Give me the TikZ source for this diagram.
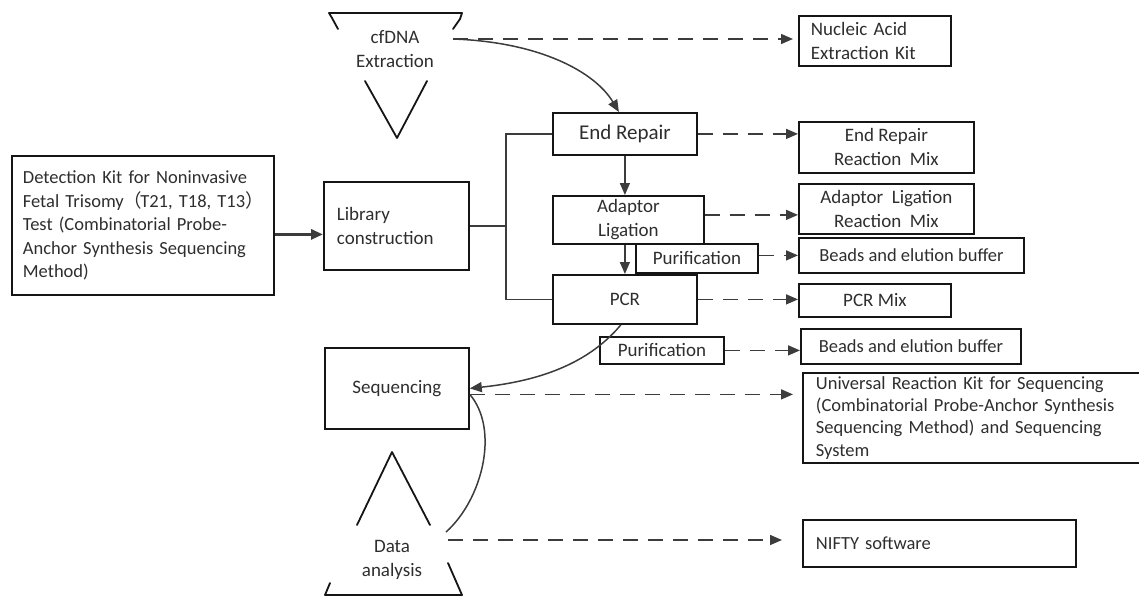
\documentclass[tikz,border=0pt]{standalone}
\usepackage{fontspec}
\setmainfont{Carlito}
\newfontfamily\cjk{Noto Sans CJK SC}
\usetikzlibrary{arrows.meta}
\definecolor{ln}{HTML}{3C3C3C}
\definecolor{tx}{HTML}{2E2E2E}
\definecolor{bd}{HTML}{151515}
\begin{document}
\begin{tikzpicture}[x=1pt,y=-1pt,
 box/.style={draw=bd, line width=1.8pt, text=tx, inner sep=0pt, anchor=north west, font=\fontsize{19}{24}\selectfont, align=center},
 lbox/.style={box, align=left, inner xsep=12pt},
 plain/.style={text=tx, inner sep=0pt, font=\fontsize{19}{24}\selectfont, align=center},
 conn/.style={draw=ln, line width=1.5pt},
 arr/.style={conn, -{Triangle[length=12pt,width=10pt]}},
 darr/.style={arr, dash pattern=on 15pt off 10pt},
 shp/.style={draw=bd, line width=1.8pt, line join=round, line cap=round},
]
\useasboundingbox (0,0) rectangle (1139,596);

% cfDNA extraction shape
\draw[shp] (338,29) -- (332,18) -- (329,13) -- (462,13) -- (460,19) -- (453,29);
\draw[shp] (365,81) -- (397,138) -- (427,81);
\node[plain] (cf) at (395,49) {cfDNA\\Extraction};
\coordinate (cfr) at (453,39);

% Data analysis shape
\draw[shp] (357,525) -- (392,452) -- (430,525);
\draw[shp] (330,583) -- (325,595) -- (462,595) -- (448,563);
\node[plain] (da) at (392,560) {Data\\analysis};
\coordinate (dar) at (446,532);
\coordinate (dad) at (448,540);

% boxes
\node[lbox, minimum width=262pt, minimum height=139pt, text width=240pt, inner xsep=11pt,
 font=\fontsize{18.5}{23.5}\selectfont] (det) at (11,155)
 {Detection Kit for Noninvasive\\\mbox{Fetal Trisomy{\cjk （}\kern-2pt T21, T18, T13{\cjk ）}}\\Test (Combinatorial Probe-\\Anchor Synthesis Sequencing\\Method)};
\node[lbox, minimum width=145pt, minimum height=88pt, text width=119pt, inner xsep=13pt] (lib) at (323,181) {Library\\construction};
\node[box, minimum width=144pt, minimum height=42pt, font=\fontsize{21}{24}\selectfont] (er) at (552,112) {End Repair};
\node[box, minimum width=151pt, minimum height=48pt] (al) at (552,195) {Adaptor\\Ligation};
\node[box, minimum width=122pt, minimum height=29pt] (pu1) at (635,243) {Purification};
\node[box, minimum width=144pt, minimum height=49pt] (pcr) at (552,274) {PCR};
\node[box, minimum width=124pt, minimum height=27pt] (pu2) at (599,336) {Purification};
\node[box, minimum width=144pt, minimum height=81pt] (seq) at (324,347) {Sequencing};

\node[lbox, minimum width=152pt, minimum height=50pt, text width=128pt] (nuc) at (798,15) {Nucleic Acid\\Extraction Kit};
\node[box, minimum width=175pt, minimum height=51pt] (erm) at (798,121) {End Repair\\Reaction\ \ Mix};
\node[box, minimum width=175pt, minimum height=50pt] (alm) at (798,183) {Adaptor\ \ Ligation\\Reaction\ \ Mix};
\node[box, minimum width=225pt, minimum height=35pt, font=\fontsize{18.5}{24}\selectfont] (b1) at (798,237) {Beads and elution buffer};
\node[box, minimum width=152pt, minimum height=33pt] (pm) at (798,283) {PCR Mix};
\node[box, minimum width=220pt, minimum height=35pt, font=\fontsize{18.5}{24}\selectfont] (b2) at (800,328) {Beads and elution buffer};
\node[lbox, minimum width=340pt, minimum height=90pt, text width=314pt, inner xsep=13pt,
 font=\fontsize{18.5}{22.3}\selectfont] (uni) at (802,372)
 {Universal Reaction Kit for Sequencing\\(Combinatorial Probe-Anchor Synthesis\\Sequencing Method) and Sequencing\\System};
\node[lbox, minimum width=273pt, minimum height=47pt, text width=247pt, inner xsep=13pt, font=\fontsize{18.5}{24}\selectfont] (nifty) at (802,519) {NIFTY software};

% solid connectors
\draw[arr, line width=3pt] ([yshift=-9pt]det.east) -- ([yshift=-9pt]det.east -| lib.west);
\coordinate (bx) at (506,0);
\draw[conn] (lib.east) -- (lib.east -| bx);
\draw[conn] (er.west) -| (bx |- pcr.west) -- (pcr.west);
\draw[arr] (er.south) -- (er.south |- al.north);
\draw[arr] (er.south |- al.south) -- (er.south |- pcr.north);
\draw[arr] (cfr) .. controls (540,42) and (595,72) .. ([xshift=-6pt]er.north);
\draw[arr] ([xshift=-4pt]pcr.south) .. controls (585,368) and (530,382) .. (seq.east);
\draw[conn] (dar) .. controls (482,500) and (500,430) .. ([yshift=-6pt]seq.east);

% dashed connectors
\draw[darr, shorten >=5pt] (cfr) -- (cfr -| nuc.west);
\draw[darr] (er.east) -- (er.east -| erm.west);
\draw[darr] ([yshift=5pt]al.east) -- ([yshift=5pt]al.east -| alm.west);
\draw[darr] ([yshift=3pt]pu1.east) -- ([yshift=3pt]pu1.east -| b1.west);
\draw[darr] (pcr.east) -- (pcr.east -| pm.west);
\draw[darr] (pu2.east) -- (pu2.east -| b2.west);
\draw[darr, shorten >=9pt] ([yshift=-6pt]seq.east) -- ([yshift=-6pt]seq.east -| uni.west);
\draw[darr, shorten >=20pt] (dad) -- (dad -| nifty.west);
\end{tikzpicture}
\end{document}
